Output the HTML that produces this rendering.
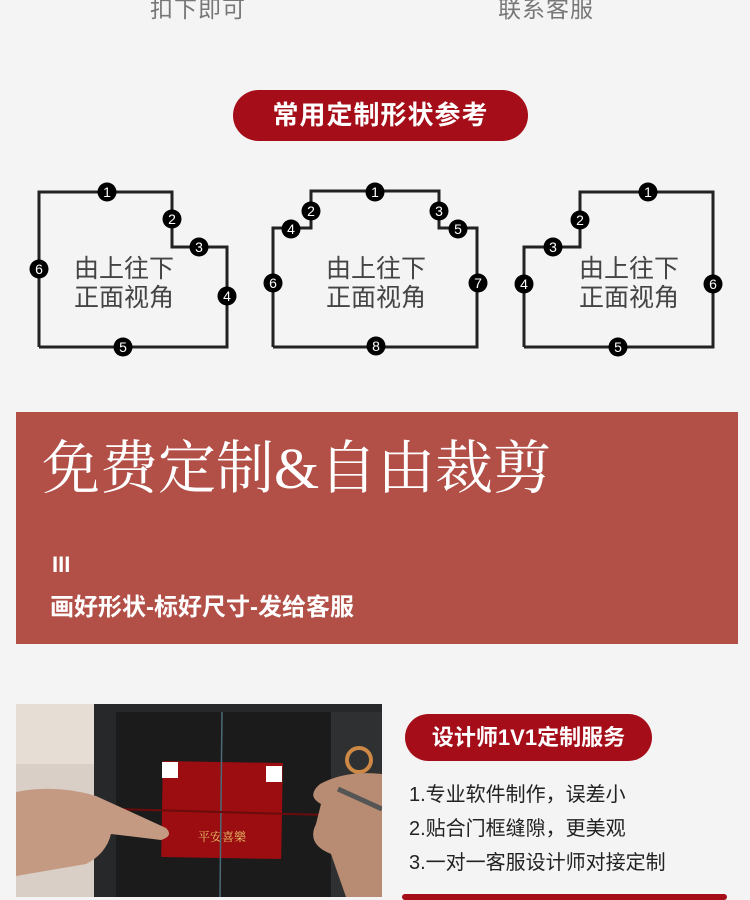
<!DOCTYPE html>
<html><head><meta charset="utf-8"><style>
html,body{margin:0;padding:0}
body{width:750px;height:897px;background:#f4f4f4;position:relative;overflow:hidden;font-family:"Liberation Sans","Noto Sans CJK SC",sans-serif}
.a{position:absolute;white-space:nowrap}
.pill{position:absolute;background:#a50d18;color:#fff;font-weight:bold;text-align:center;border-radius:26px}
</style></head><body>
<div class="a" style="left:150px;top:-10px;font-size:23px;color:#777;letter-spacing:1px">扣下即可</div>
<div class="a" style="left:498px;top:-10px;font-size:23px;color:#777;letter-spacing:1px">联系客服</div>
<div class="pill" style="left:233px;top:90px;width:295px;height:51px;line-height:51px;font-size:26px;letter-spacing:1px">常用定制形状参考</div>
<svg class="a" style="left:0;top:0" width="750" height="400">
<g fill="none" stroke="#222" stroke-width="3">
<polyline points="39,347 39,192 172,192 172,247 227,247 227,347 39,347"/>
<polyline points="273,347 273,228 311,228 311,191 439,191 439,228 477,228 477,347 273,347"/>
<polyline points="524,347 524,247 580,247 580,192 713,192 713,347 524,347"/>
</g>
<g>
<circle cx="107" cy="192" r="9.5"/><circle cx="172" cy="219" r="9.5"/><circle cx="199" cy="247" r="9.5"/><circle cx="227" cy="296" r="9.5"/><circle cx="123" cy="347" r="9.5"/><circle cx="39" cy="269" r="9.5"/>
<circle cx="375" cy="192" r="9.5"/><circle cx="311" cy="211" r="9.5"/><circle cx="439" cy="211" r="9.5"/><circle cx="291" cy="229" r="9.5"/><circle cx="458" cy="229" r="9.5"/><circle cx="273" cy="283" r="9.5"/><circle cx="478" cy="283" r="9.5"/><circle cx="376" cy="346" r="9.5"/>
<circle cx="648" cy="192" r="9.5"/><circle cx="580" cy="220" r="9.5"/><circle cx="553" cy="247" r="9.5"/><circle cx="524" cy="284" r="9.5"/><circle cx="713" cy="284" r="9.5"/><circle cx="618" cy="347" r="9.5"/>
</g>
<g font-family="Liberation Sans,sans-serif" font-size="14" fill="#fff" text-anchor="middle">
<text x="107" y="197">1</text><text x="172" y="224">2</text><text x="199" y="252">3</text><text x="227" y="301">4</text><text x="123" y="352">5</text><text x="39" y="274">6</text>
<text x="375" y="197">1</text><text x="311" y="216">2</text><text x="439" y="216">3</text><text x="291" y="234">4</text><text x="458" y="234">5</text><text x="273" y="288">6</text><text x="478" y="288">7</text><text x="376" y="351">8</text>
<text x="648" y="197">1</text><text x="580" y="225">2</text><text x="553" y="252">3</text><text x="524" y="289">4</text><text x="713" y="289">6</text><text x="618" y="352">5</text>
</g>
<g font-family="Liberation Sans,Noto Sans CJK SC,sans-serif" font-size="25" fill="#444">
<text x="74" y="277">由上往下</text><text x="74" y="306">正面视角</text>
<text x="326" y="277">由上往下</text><text x="326" y="306">正面视角</text>
<text x="579" y="277">由上往下</text><text x="579" y="306">正面视角</text>
</g>
</svg>
<div class="a" style="left:16px;top:412px;width:722px;height:232px;background:#b24f47"></div>
<div class="a" style="left:42px;top:434px;font-family:'Liberation Serif','Noto Serif CJK SC',serif;font-size:58px;color:#fff;line-height:70px">免费定制&amp;自由裁剪</div>
<div class="a" style="left:52px;top:552px;font-size:22px;color:#fff;font-weight:bold;line-height:26px">III</div>
<div class="a" style="left:50px;top:593px;font-size:24px;color:#fff;font-weight:bold;line-height:30px">画好形状-标好尺寸-发给客服</div>
<svg class="a" style="left:16px;top:704px" width="366" height="193">
<rect width="366" height="193" fill="#d9cfc7"/>
<rect x="0" y="0" width="80" height="60" fill="#e6ddd4"/>
<rect x="78" y="0" width="288" height="193" fill="#262829"/>
<rect x="100" y="8" width="215" height="185" fill="#1b1b1b"/>
<rect x="315" y="8" width="51" height="185" fill="#2e3031"/>
<circle cx="343" cy="56" r="12" fill="none" stroke="#c84" stroke-width="4"/>
<rect x="146" y="58" width="120" height="96" fill="#9b0d10" transform="rotate(1 206 106)"/>
<rect x="146" y="58" width="16" height="16" fill="#fff"/>
<rect x="250" y="62" width="16" height="16" fill="#fff"/>
<text x="206" y="137" font-size="12" fill="#e8c36a" text-anchor="middle" font-family="Noto Serif CJK SC,serif">平安喜樂</text>
<line x1="206" y1="8" x2="204" y2="193" stroke="#4a6a78" stroke-width="1.5"/>
<line x1="100" y1="105" x2="310" y2="111" stroke="#6a0c0c" stroke-width="2"/>
<path d="M0 88 Q40 80 80 92 L150 124 Q158 132 145 136 L95 130 Q90 150 70 160 L0 172 Z" fill="#c49a82"/>
<path d="M366 70 Q330 66 304 80 Q290 92 305 100 L300 120 Q290 140 315 150 L330 193 L366 193 Z" fill="#b88c72"/>
<line x1="322" y1="85" x2="366" y2="105" stroke="#555" stroke-width="5"/>
</svg>
<div class="pill" style="left:405px;top:714px;width:247px;height:47px;line-height:47px;font-size:22px;border-radius:24px">设计师1V1定制服务</div>
<div class="a" style="left:409px;top:781px;font-size:20px;color:#222;line-height:28px">1.专业软件制作，误差小</div>
<div class="a" style="left:409px;top:815px;font-size:20px;color:#222;line-height:28px">2.贴合门框缝隙，更美观</div>
<div class="a" style="left:409px;top:849px;font-size:20px;color:#222;line-height:28px">3.一对一客服设计师对接定制</div>
<div class="a" style="left:402px;top:894px;width:325px;height:6px;background:#a50d18;border-radius:3px"></div>
</body></html>
